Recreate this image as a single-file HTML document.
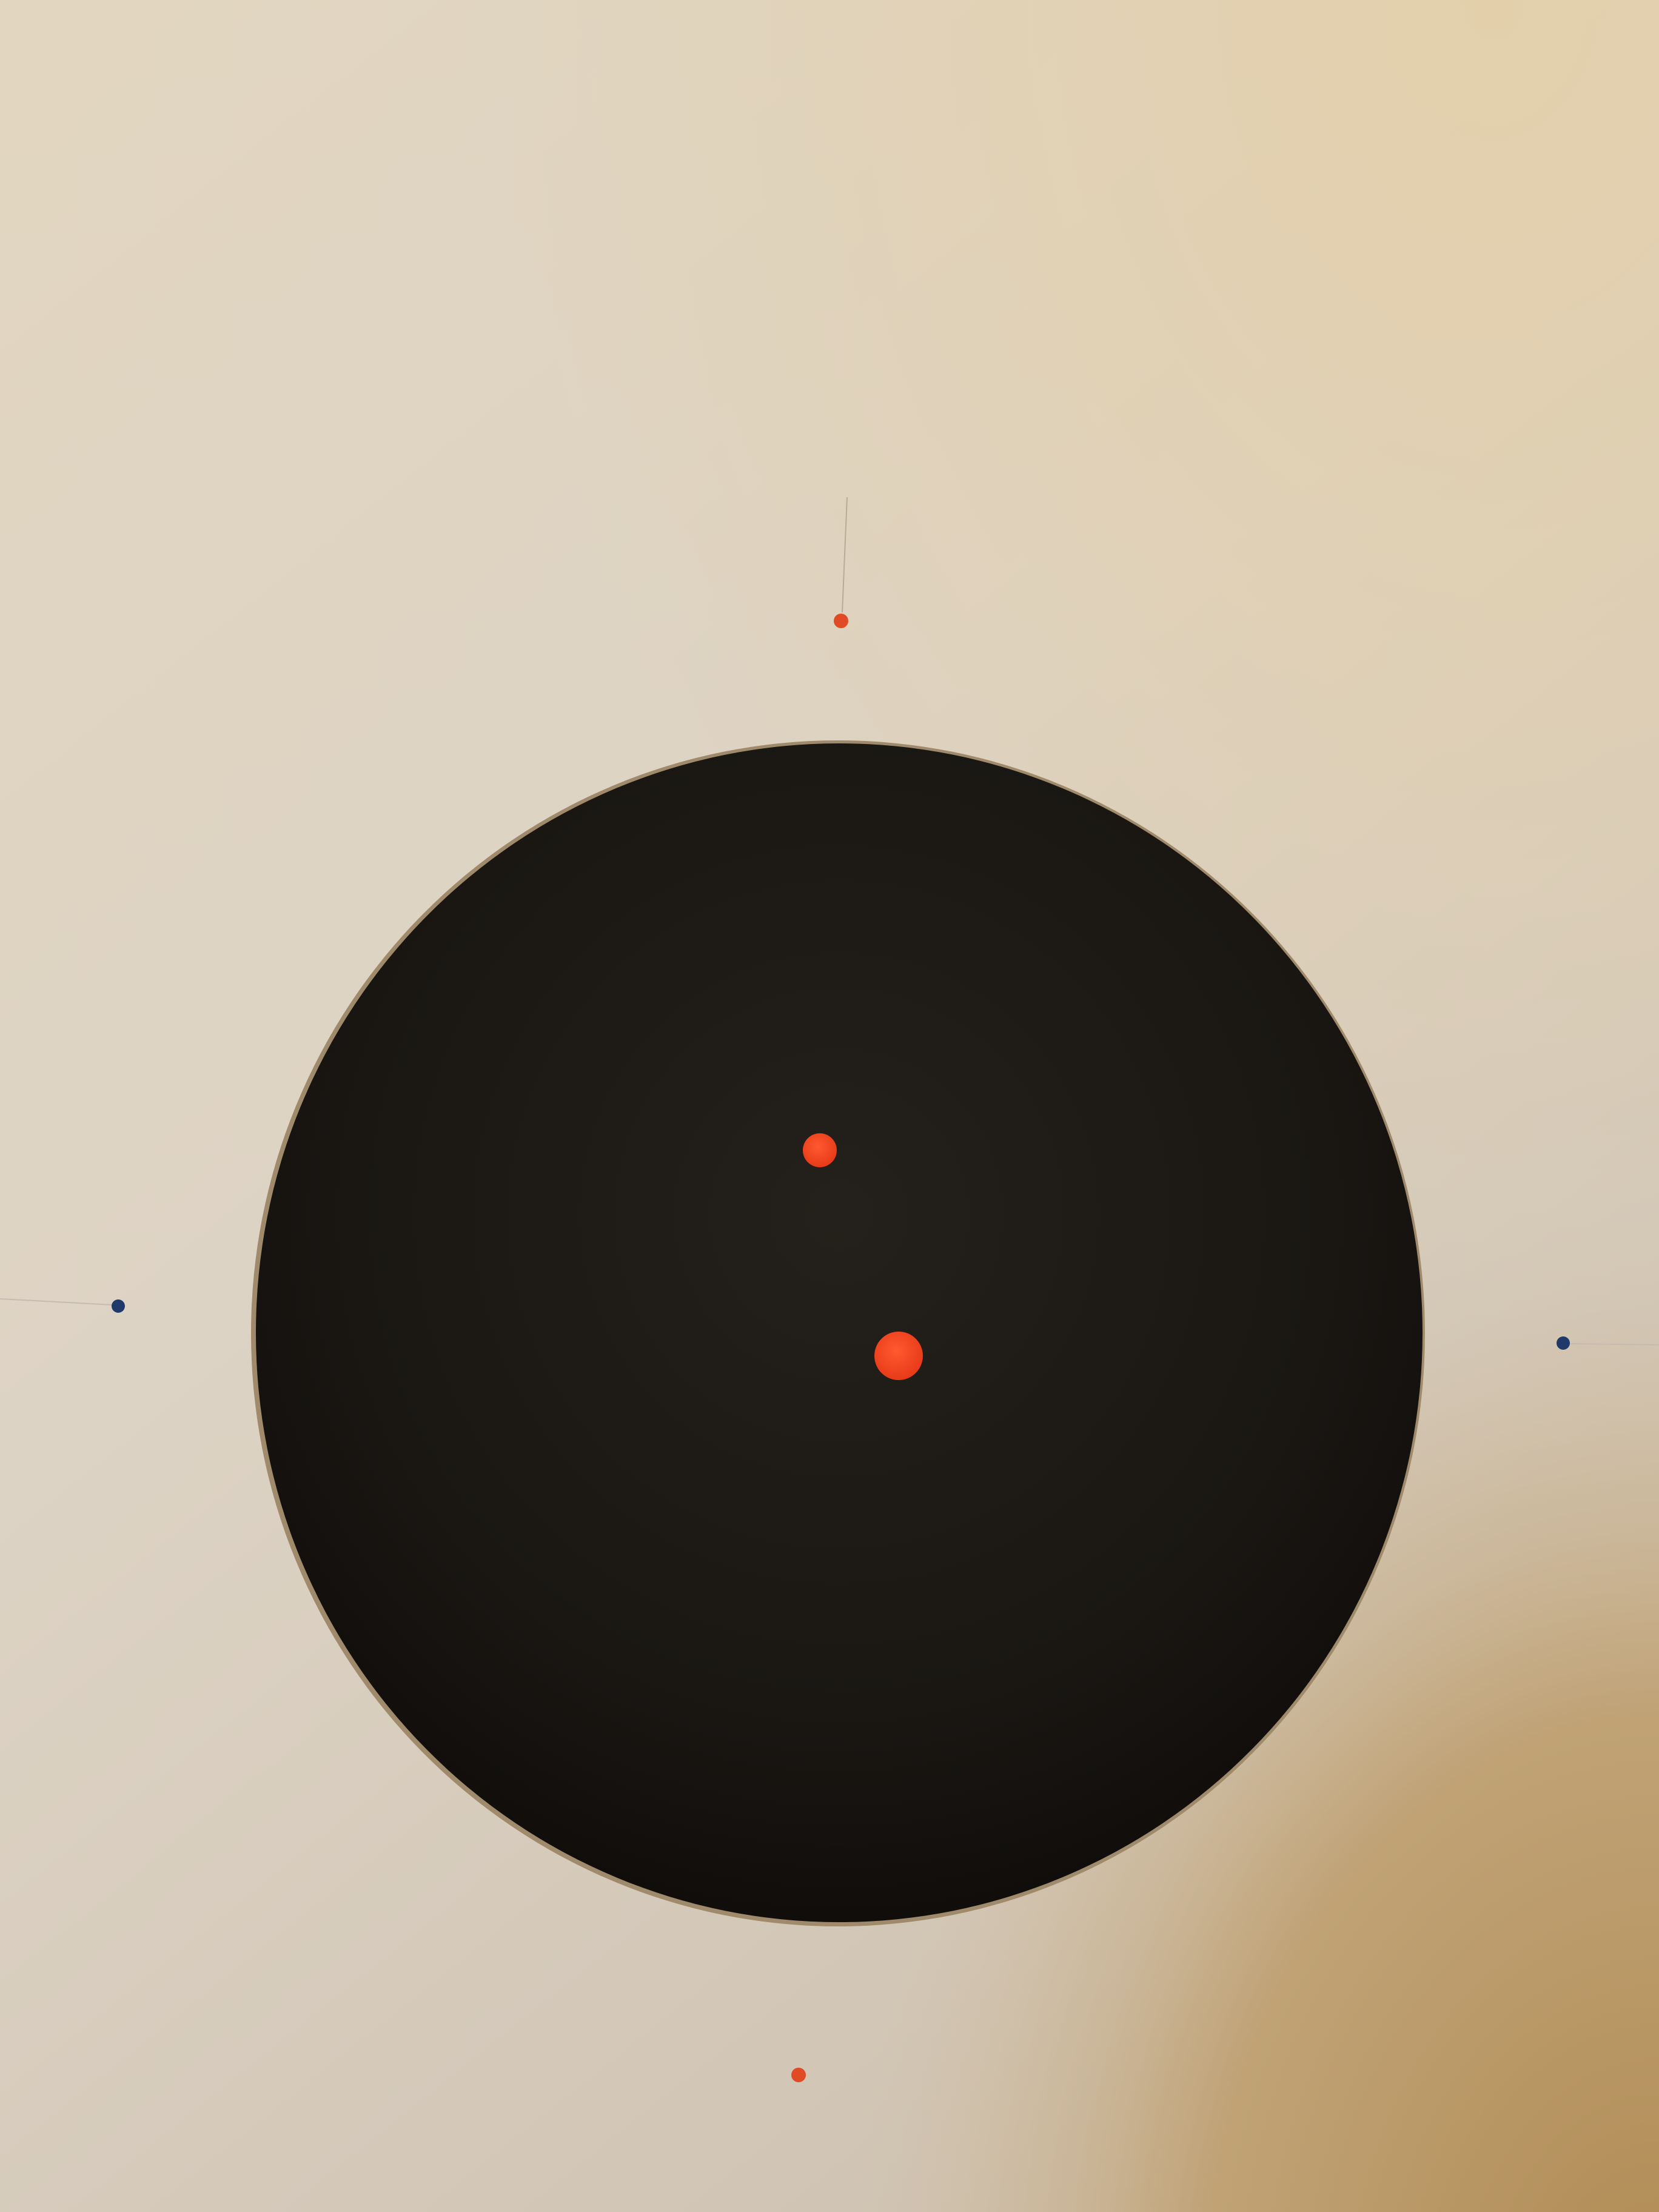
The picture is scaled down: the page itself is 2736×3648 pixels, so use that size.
<!DOCTYPE html>
<html>
<head>
<meta charset="utf-8">
<style>
  html, body { margin:0; padding:0; width:2736px; height:3648px; overflow:hidden; background:#ddd0bb; }
  svg { display:block; }
</style>
</head>
<body>
<svg width="2736" height="3648" viewBox="0 0 2736 3648" xmlns="http://www.w3.org/2000/svg">
  <defs>
    <linearGradient id="bgBase" x1="0" y1="0" x2="0.6" y2="1">
      <stop offset="0" stop-color="#e2d6c0"/>
      <stop offset="0.5" stop-color="#ddd3c4"/>
      <stop offset="1" stop-color="#cfc3b3"/>
    </linearGradient>
    <radialGradient id="warmTop" cx="0.9" cy="0.0" r="0.6">
      <stop offset="0" stop-color="#e4cfa8" stop-opacity="0.9"/>
      <stop offset="1" stop-color="#e4cfa8" stop-opacity="0"/>
    </radialGradient>
    <radialGradient id="brownCorner" cx="1.0" cy="1.05" r="0.5">
      <stop offset="0" stop-color="#b08a52" stop-opacity="1"/>
      <stop offset="0.55" stop-color="#bc9a66" stop-opacity="0.8"/>
      <stop offset="1" stop-color="#d4c2a6" stop-opacity="0"/>
    </radialGradient>
    <radialGradient id="holeGrad" cx="0.5" cy="0.4" r="0.6">
      <stop offset="0" stop-color="#24201b"/>
      <stop offset="0.7" stop-color="#1a1713"/>
      <stop offset="1" stop-color="#100d0b"/>
    </radialGradient>
    <radialGradient id="dotGrad" cx="0.45" cy="0.4" r="0.6">
      <stop offset="0" stop-color="#ff5a30"/>
      <stop offset="1" stop-color="#e83a18"/>
    </radialGradient>
  </defs>
  <rect x="0" y="0" width="2736" height="3648" fill="url(#bgBase)"/>
  <rect x="0" y="0" width="2736" height="3648" fill="url(#warmTop)"/>
  <rect x="0" y="0" width="2736" height="3648" fill="url(#brownCorner)"/>

  <ellipse cx="1382" cy="2199" rx="968" ry="978" fill="#a08a6c"/>
  <ellipse cx="1384" cy="2198" rx="962" ry="972" fill="url(#holeGrad)"/>

  <circle cx="1352" cy="1897" r="28" fill="url(#dotGrad)"/>
  <circle cx="1482" cy="2236" r="40" fill="url(#dotGrad)"/>

  <line x1="1397" y1="820" x2="1389" y2="1010" stroke="#b8ab98" stroke-width="2"/>
  <circle cx="1387" cy="1024" r="12" fill="#e04a25"/>
  <circle cx="1317" cy="3422" r="12" fill="#e04a25"/>
  <line x1="0" y1="2142" x2="185" y2="2152" stroke="#c5bbb0" stroke-width="2"/>
  <circle cx="195" cy="2154" r="11" fill="#1f3a6a"/>
  <line x1="2590" y1="2216" x2="2736" y2="2218" stroke="#c5bbb0" stroke-width="2"/>
  <circle cx="2578" cy="2215" r="11" fill="#1f3a6a"/>
</svg>
</body>
</html>
